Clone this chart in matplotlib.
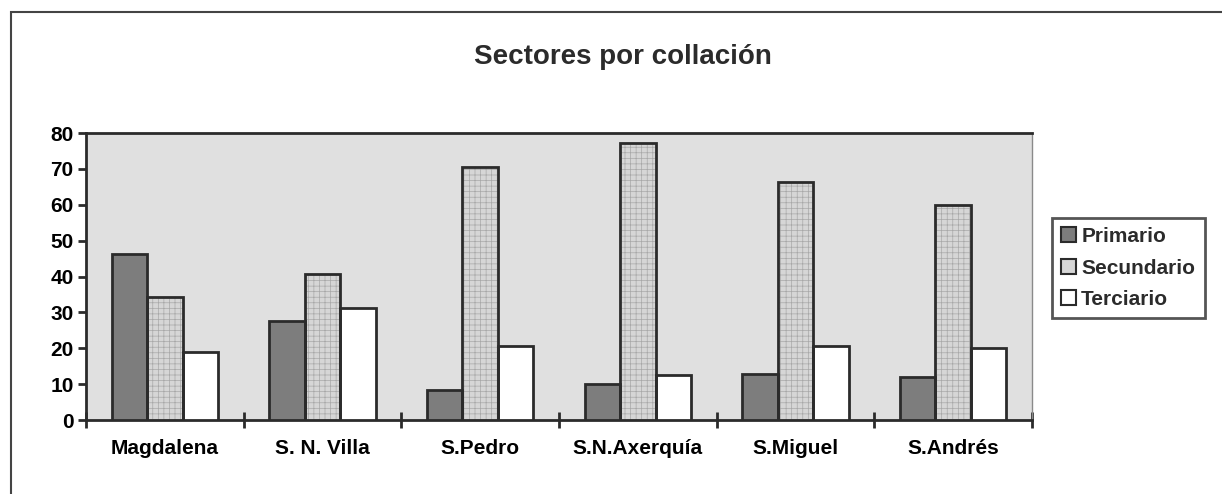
import numpy as np
import matplotlib
matplotlib.use('Agg')
import matplotlib.pyplot as plt
from matplotlib.patches import Rectangle

# datos
collaciones = ['Magdalena', 'S. N. Villa', 'S.Pedro', 'S.N.Axerquía', 'S.Miguel', 'S.Andrés']
primario = [46.2, 27.7, 8.5, 10.0, 12.8, 12.1]
secundario = [34.4, 40.7, 70.4, 77.1, 66.3, 59.8]
terciario = [19.0, 31.1, 20.7, 12.5, 20.6, 20.1]
series = ['Primario', 'Secundario', 'Terciario']
yticks = [0, 10, 20, 30, 40, 50, 60, 70, 80]

plt.rcParams['font.family'] = ['Liberation Sans', 'DejaVu Sans']
plt.rcParams['font.weight'] = 'bold'
plt.rcParams['hatch.linewidth'] = 0.5

W, H = 1222, 494
fig = plt.figure(figsize=(W / 100, H / 100), dpi=100)
fig.patch.set_facecolor('white')

ax = fig.add_axes([86 / W, (H - 420) / H, (1032 - 86) / W, 287 / H])
ax.set_facecolor('#e0e0e0')

x = np.arange(len(collaciones))
w = 0.225
colores = ['#7d7d7d', '#d6d6d6', '#ffffff']
hatches = ['', '+++', '']
tramas = ['#7d7d7d', '#a8a8a8', '#ffffff']
datos = [primario, secundario, terciario]
for i, (vals, col, hat, tc, nom) in enumerate(zip(datos, colores, hatches, tramas, series)):
    # relleno con trama clara y luego el contorno oscuro
    ax.bar(x + (i - 1) * w, vals, width=w, color=col, edgecolor=tc,
           linewidth=0, hatch=hat, zorder=3)
    ax.bar(x + (i - 1) * w, vals, width=w, color=col, edgecolor='#2b2b2b',
           linewidth=2, fill=False, zorder=4)

# leyenda con parches propios
handles = [Rectangle((0, 0), 1, 1, facecolor=c, edgecolor='#2b2b2b', linewidth=1.5)
           for c in colores]

ax.set_xlim(-0.5, len(collaciones) - 0.5)
ax.set_ylim(0, 80)
ax.set_yticks(yticks)
ax.set_xticks(x)
ax.set_xticklabels(collaciones)
ax.set_xticks(np.arange(-0.5, len(collaciones)), minor=True)
ax.tick_params(axis='x', which='major', length=0, pad=14, labelsize=15)
ax.tick_params(axis='x', which='minor', direction='inout', length=12, width=2, color='#2b2b2b')
ax.tick_params(axis='y', direction='out', length=6, width=2, color='#2b2b2b', pad=3, labelsize=15)

for s in ['left', 'bottom', 'top']:
    ax.spines[s].set_linewidth(2)
    ax.spines[s].set_color('#2b2b2b')
ax.spines['right'].set_linewidth(1)
ax.spines['right'].set_color('#8a8a8a')

fig.text(623 / W, (H - 57) / H, 'Sectores por collación', ha='center', va='center',
         fontsize=20, fontweight='bold', color='#2b2b2b')

leg = fig.legend(handles, series, loc='center left', bbox_to_anchor=(1052 / W, (H - 268) / H),
                 fontsize=15, frameon=True, fancybox=False, handlelength=0.7,
                 handleheight=0.7, handletextpad=0.25, labelspacing=0.6,
                 borderpad=0.45, borderaxespad=0)
leg.get_frame().set_edgecolor('#2b2b2b')
leg.get_frame().set_linewidth(2)
for t in leg.get_texts():
    t.set_color('#2b2b2b')

# marco exterior
fig.add_artist(Rectangle((11 / W, -0.1), 1.2, (H - 12) / H + 0.1, transform=fig.transFigure,
                         fill=False, edgecolor='#444444', linewidth=1.5, clip_on=False))

fig.savefig('out.png', dpi=100)
